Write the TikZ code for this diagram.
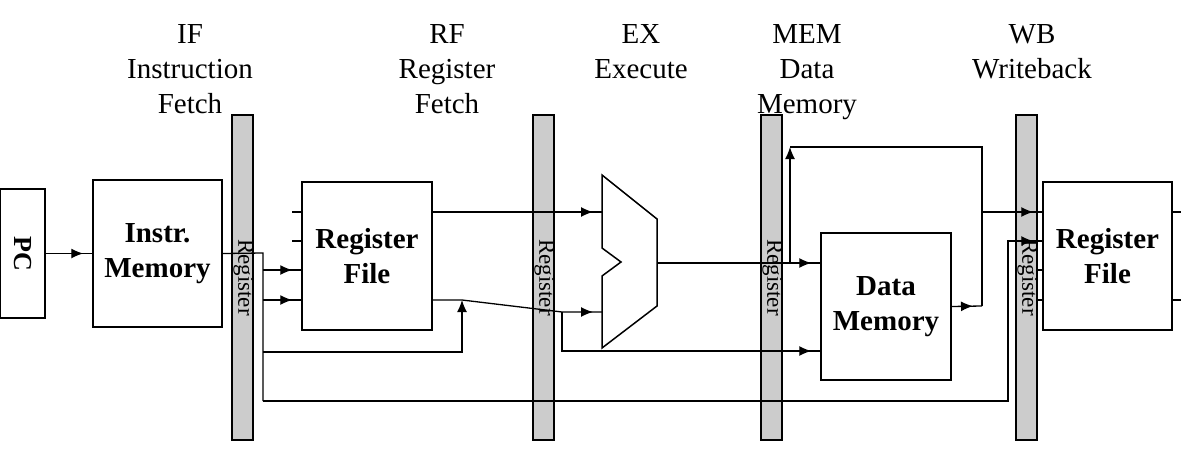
\documentclass[tikz,border=0pt]{standalone}
\usepackage{fontspec}
\setmainfont{Liberation Serif}
\usetikzlibrary{arrows.meta,decorations.markings}
\begin{document}
\begin{tikzpicture}[x=1pt,y=1pt,
  box/.style={draw, line width=1.5pt, fill=white, inner sep=0pt, align=center, font=\fontsize{29}{35}\selectfont\bfseries},
  bar/.style={draw, line width=1.2pt, fill=black!20, minimum width=21pt, minimum height=325pt, inner sep=0pt},
  regtxt/.style={rotate=-90, font=\fontsize{23}{23}\selectfont, inner sep=0pt},
  lbl/.style={anchor=base, font=\fontsize{29}{35}\selectfont, inner sep=0pt},
  wire/.style={line width=1.3pt},
  arr/.style={wire, postaction={decorate}, decoration={markings, mark=at position -9pt with {\arrow{Latex[length=12pt,width=10pt]}}}},
  uparr/.style={wire, -{Latex[length=12pt,width=10pt]}}
]
\useasboundingbox (0,0) rectangle (1181,467);

% stage labels
\node[lbl] (if1) at (190,423) {IF};
\node[lbl] (if2) at (190,388) {Instruction};
\node[lbl] (if3) at (190,353) {Fetch};
\node[lbl] (rf1l) at (447,423) {RF};
\node[lbl] (rf2l) at (447,388) {Register};
\node[lbl] (rf3l) at (447,353) {Fetch};
\node[lbl] (ex1) at (641,423) {EX};
\node[lbl] (ex2) at (641,388) {Execute};
\node[lbl] (me1) at (807,423) {MEM};
\node[lbl] (me2) at (807,388) {Data};
\node[lbl] (me3) at (807,353) {Memory};
\node[lbl] (wb1) at (1032,423) {WB};
\node[lbl] (wb2) at (1032,388) {Writeback};

% pipeline registers
\node[bar] (b1) at (242.5,189.5) {};
\node[bar] (b2) at (543.5,189.5) {};
\node[bar] (b3) at (771.5,189.5) {};
\node[bar] (b4) at (1026.5,189.5) {};
\node[regtxt] (t1) at ([xshift=1pt]b1.center) {Register};
\node[regtxt] (t2) at ([xshift=1pt]b2.center) {Register};
\node[regtxt] (t3) at ([xshift=1pt]b3.center) {Register};
\node[regtxt] (t4) at ([xshift=1pt]b4.center) {Register};

% boxes
\node[box, minimum width=45pt, minimum height=129pt] (pc) at (22.5,213.5) {};
\node[rotate=-90, font=\fontsize{26}{26}\selectfont\bfseries, inner sep=0pt] (pct) at (pc.center) {PC};
\node[box, minimum width=129pt, minimum height=147pt] (im) at (157.5,213.5) {Instr.\\Memory};
\node[box, minimum width=130pt, minimum height=148pt] (rf1) at (367,211) {Register\\File};
\node[box, minimum width=129pt, minimum height=148pt] (rf2) at (1107.5,211) {Register\\File};
\node[box, minimum width=130pt, minimum height=147pt] (dm) at (886,160.5) {Data\\Memory};

% ALU
\draw[line width=1.5pt, fill=white] (602,292) -- (657,248) -- (657,161) -- (602,119) -- (602,191) -- (621,205) -- (602,219) -- cycle;
\coordinate (alu1) at (602,255);
\coordinate (alu2) at (602,155);
\coordinate (aluo) at (657,204);

% ports
\coordinate (rf1p1) at ([yshift=44pt]rf1.west);
\coordinate (rf1p2) at ([yshift=15pt]rf1.west);
\coordinate (rf1p3) at ([yshift=-14pt]rf1.west);
\coordinate (rf1p4) at ([yshift=-44pt]rf1.west);
\coordinate (rf1q1) at ([yshift=44pt]rf1.east);
\coordinate (rf1q4) at ([yshift=-44pt]rf1.east);
\coordinate (rf2p1) at ([yshift=44pt]rf2.west);
\coordinate (rf2p2) at ([yshift=15pt]rf2.west);
\coordinate (rf2p3) at ([yshift=-14pt]rf2.west);
\coordinate (rf2p4) at ([yshift=-44pt]rf2.west);
\coordinate (rf2q1) at ([yshift=44pt]rf2.east);
\coordinate (rf2q4) at ([yshift=-44pt]rf2.east);
\coordinate (dmp1) at ([yshift=43.5pt]dm.west);
\coordinate (dmp2) at ([yshift=-44.5pt]dm.west);

% junctions
\coordinate (ja) at (263,214);
\coordinate (jb) at (263,66);
\coordinate (jc) at (263,115);
\coordinate (jd) at (462,115);
\coordinate (je) at (462,167);
\coordinate (jf) at (1008,66);
\coordinate (jg) at (562,155);
\coordinate (jh) at (562,116);
\coordinate (ji) at (790,204);
\coordinate (jk) at (790,320);
\coordinate (jl) at (982,320);
\coordinate (jm) at (982,161);
\coordinate (xr) at (1181,0);

% wires
\draw[arr] (pc.east) -- (im.west);
\draw[wire] (im.east) -- (ja) -- (jb);
\draw[arr] (ja |- rf1p3) -- (rf1p3);
\draw[arr] (ja |- rf1p4) -- (rf1p4);
\draw[uparr] (jc) -- (jd) -- (je);
\draw[arr] (jb) -- (jf) -- (jf |- rf2p2) -- (rf2p2);
\draw[wire] ([xshift=-9pt]rf1p1) -- (rf1p1);
\draw[wire] ([xshift=-9pt]rf1p2) -- (rf1p2);
\draw[arr] (rf1q1) -- (alu1);
\draw[arr] (rf1q4) -- (je) -- (jg) -- (alu2);
\draw[arr] (jg) -- (jh) -- (dmp2);
\draw[arr] (aluo) -- (dmp1);
\draw[uparr] (ji) -- (jk);
\draw[wire] (jk) -- (jl) -- (jm);
\draw[arr] (dm.east) -- (jm);
\draw[arr] (jl |- rf2p1) -- (rf2p1);
\draw[wire] ([xshift=-6pt]rf2p3) -- (rf2p3);
\draw[wire] ([xshift=-6pt]rf2p4) -- (rf2p4);
\draw[wire] (rf2q1) -- (rf2q1 -| xr);
\draw[wire] (rf2q4) -- (rf2q4 -| xr);
\end{tikzpicture}
\end{document}
